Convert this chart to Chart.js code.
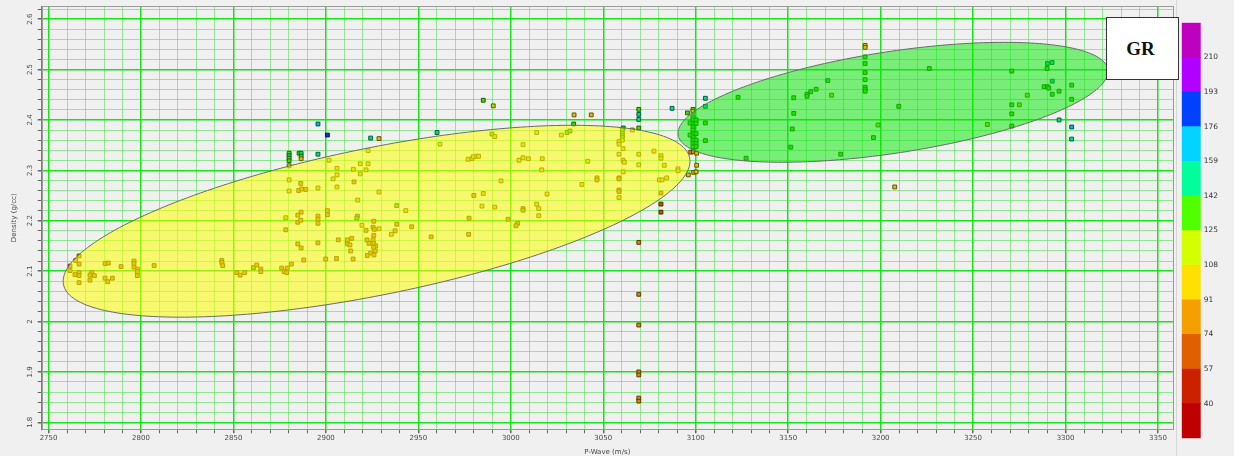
<!DOCTYPE html>
<html>
<head>
<meta charset="utf-8">
<script src="https://cdn.jsdelivr.net/npm/chart.js@4.4.1/dist/chart.umd.min.js"></script>
<style>
  html, body { margin: 0; padding: 0; background: #f0f0f0; }
  body { width: 1234px; height: 456px; position: relative; overflow: hidden; }
  #plot { position: absolute; left: 0; top: 0; }
  #barPanel { position: absolute; left: 1176px; top: 0; width: 58px; height: 456px; border-left: 1px solid #d6d6d6; background: #f0f0f0; }
  #bar { position: absolute; left: 1178px; top: 0; }
  #grBox { position: absolute; left: 1106px; top: 17px; width: 73px; height: 63px; border: 1.5px solid #333; background: #fff;
           font: bold 19px "Liberation Serif", "Times New Roman", serif; color: #111;
           display: flex; align-items: center; justify-content: center; padding-right: 4px; box-sizing: border-box; }
</style>
</head>
<body>
<canvas id="plot" width="1178" height="456"></canvas>
<div id="barPanel"></div>
<canvas id="bar" width="56" height="456"></canvas>
<div id="grBox">GR</div>
<script>
// ---- Well log samples: P-wave velocity (m/s), bulk density (g/cc), gamma ray (API) ----
const pWave = [
  // shallow low-velocity sands
  2766.5, 2764.7, 2766.5, 2761.6, 2761.6, 2766.5, 2766.5, 2764.3, 2766.5, 2773.4, 2772.4, 2774.8,
  2772.4, 2780.6, 2782.3, 2789.2, 2780.6, 2782.0, 2784.5, 2796.2, 2796.2, 2796.2, 2798.0, 2798.0,
  2798.0, 2807.1, 2843.7, 2843.7, 2844.2, 2851.8, 2853.6, 2856.1, 2860.8, 2862.6, 2864.8, 2864.8,
  2876.1, 2879.1, 2877.4, 2878.8, 2881.3, 2888.0, 2899.9, 2905.7, 2914.7,
  // 2880-2960 cluster
  2895.7, 2900.8, 2924.2, 2928.7, 2960.1, 2880.1, 2880.1, 2880.1, 2880.1, 2880.1, 2885.5, 2886.6,
  2886.6, 2886.6, 2895.7, 2901.7, 2922.8, 2961.7, 2918.6, 2922.8, 2906.0, 2914.8, 2921.7, 2918.6,
  2906.0, 2903.9, 2915.2, 2880.1, 2886.4, 2906.0, 2895.7, 2880.1, 2885.3, 2886.9, 2889.1, 2928.7,
  2917.2, 2938.3, 2943.2, 2886.6, 2884.8, 2884.8, 2886.4, 2878.3, 2900.8, 2900.8, 2895.7, 2895.7,
  2895.7, 2917.0, 2916.7, 2925.9, 2919.5, 2921.7, 2925.5, 2926.2, 2928.7, 2925.9, 2938.3, 2937.4,
  2935.4, 2946.4, 2956.9, 2878.3, 2884.8, 2886.6, 2895.7, 2906.7, 2911.6, 2914.0, 2911.6, 2913.0,
  2913.4, 2922.2, 2923.3, 2925.5, 2925.9, 2926.9, 2925.8, 2926.7, 2924.2, 2926.0, 2922.4,
  // 2975-3050 cluster
  2985.1, 2990.5, 3034.2, 3043.5, 3034.0, 2989.8, 2991.3, 3014.0, 3027.3, 3030.4, 3032.0, 3006.6,
  2976.9, 2979.0, 2979.7, 2981.6, 2982.6, 3004.4, 3006.6, 3009.5, 3017.0, 3041.6, 3016.7, 2994.7,
  3046.6, 3046.6, 3038.4, 2980.0, 2985.1, 3019.6, 3014.0, 3015.1, 3006.6, 3006.6, 2984.4, 2991.3,
  3015.1, 2977.4, 2998.5, 3003.7, 3002.8, 2977.2,
  // 3055-3106 transition
  3069.2, 3069.2, 3069.2, 3069.2, 3060.8, 3060.3, 3060.3, 3060.3, 3060.3, 3060.3, 3058.5, 3058.5,
  3065.7, 3060.7, 3058.5, 3060.7, 3061.4, 3060.7, 3058.5, 3058.5, 3058.5, 3058.5, 3058.5, 3069.2,
  3069.2, 3077.4, 3081.2, 3081.2, 3083.0, 3090.4, 3090.4, 3084.3, 3080.3, 3081.8, 3081.2, 3081.2,
  3081.2, 3069.2, 3069.2, 3069.2, 3069.2, 3069.2, 3069.2, 3069.2, 3087.2, 3095.5, 3098.5, 3098.5,
  3105.2, 3105.2, 3098.5, 3098.5, 3098.5, 3098.5, 3098.5, 3098.5, 3098.5, 3098.5, 3098.5, 3098.5,
  3100.2, 3100.2, 3100.2, 3100.2, 3100.2, 3100.2, 3096.9, 3096.9, 3105.2, 3105.2, 3097.3, 3098.7,
  3100.5, 3100.5, 3098.9, 3100.2, 3096.0,
  // high-velocity interval
  3122.9, 3127.2, 3191.6, 3191.6, 3191.6, 3191.6, 3191.6, 3191.6, 3191.6, 3191.6, 3191.6, 3226.3,
  3171.4, 3165.1, 3162.2, 3160.2, 3160.2, 3173.5, 3153.0, 3153.0, 3152.2, 3151.4, 3178.4, 3196.1,
  3198.6, 3209.8, 3207.6, 3257.7, 3270.9, 3270.9, 3270.9, 3270.9, 3275.0, 3279.3, 3290.2, 3292.7,
  3290.0, 3292.8, 3288.4, 3290.2, 3290.9, 3292.8, 3296.5, 3303.3, 3303.3, 3296.5, 3303.3, 3303.3
];

const density = [
  2.130, 2.121, 2.114, 2.110, 2.101, 2.097, 2.091, 2.093, 2.077, 2.097, 2.092, 2.091,
  2.082, 2.115, 2.116, 2.109, 2.086, 2.079, 2.086, 2.120, 2.115, 2.108, 2.104, 2.099,
  2.091, 2.111, 2.121, 2.117, 2.111, 2.097, 2.092, 2.097, 2.107, 2.112, 2.104, 2.099,
  2.106, 2.106, 2.099, 2.097, 2.114, 2.122, 2.124, 2.125, 2.124,

  2.392, 2.370, 2.364, 2.363, 2.375, 2.334, 2.329, 2.324, 2.319, 2.309, 2.334, 2.334,
  2.328, 2.323, 2.332, 2.320, 2.339, 2.352, 2.313, 2.313, 2.304, 2.302, 2.301, 2.293,
  2.291, 2.283, 2.277, 2.281, 2.274, 2.267, 2.265, 2.259, 2.260, 2.263, 2.262, 2.257,
  2.241, 2.230, 2.220, 2.217, 2.211, 2.197, 2.201, 2.206, 2.220, 2.212, 2.209, 2.203,
  2.195, 2.209, 2.205, 2.199, 2.191, 2.181, 2.187, 2.183, 2.184, 2.171, 2.193, 2.180,
  2.173, 2.188, 2.168, 2.182, 2.154, 2.146, 2.156, 2.162, 2.162, 2.165, 2.154, 2.152,
  2.140, 2.162, 2.155, 2.162, 2.155, 2.150, 2.147, 2.140, 2.136, 2.132, 2.131,

  2.439, 2.428, 2.410, 2.410, 2.392, 2.372, 2.367, 2.375, 2.370, 2.375, 2.378, 2.351,
  2.322, 2.323, 2.327, 2.328, 2.328, 2.320, 2.325, 2.323, 2.323, 2.318, 2.301, 2.279,
  2.285, 2.281, 2.272, 2.250, 2.254, 2.253, 2.233, 2.224, 2.224, 2.221, 2.229, 2.227,
  2.210, 2.205, 2.203, 2.195, 2.190, 2.173,

  2.421, 2.411, 2.401, 2.384, 2.384, 2.380, 2.374, 2.369, 2.365, 2.360, 2.357, 2.352,
  2.380, 2.343, 2.332, 2.320, 2.316, 2.297, 2.285, 2.283, 2.261, 2.258, 2.246, 2.332,
  2.311, 2.338, 2.329, 2.324, 2.310, 2.303, 2.299, 2.285, 2.281, 2.281, 2.255, 2.233,
  2.217, 2.157, 2.054, 1.993, 1.900, 1.894, 1.848, 1.842, 2.423, 2.414, 2.421, 2.417,
  2.443, 2.427, 2.406, 2.400, 2.393, 2.386, 2.380, 2.373, 2.366, 2.360, 2.353, 2.347,
  2.400, 2.393, 2.373, 2.360, 2.353, 2.347, 2.394, 2.370, 2.394, 2.359, 2.336, 2.337,
  2.334, 2.310, 2.296, 2.297, 2.291,

  2.445, 2.324, 2.548, 2.544, 2.525, 2.512, 2.494, 2.480, 2.465, 2.461, 2.457, 2.502,
  2.478, 2.461, 2.456, 2.451, 2.447, 2.449, 2.444, 2.413, 2.382, 2.346, 2.332, 2.365,
  2.390, 2.427, 2.267, 2.391, 2.497, 2.430, 2.412, 2.388, 2.430, 2.449, 2.512, 2.514,
  2.502, 2.477, 2.466, 2.466, 2.463, 2.451, 2.457, 2.469, 2.441, 2.400, 2.386, 2.362
];

const gammaRay = [
  84, 87, 82, 88, 85, 86, 83, 87, 84, 86, 88, 85,
  83, 87, 86, 84, 88, 85, 86, 87, 84, 86, 85, 88,
  83, 86, 87, 85, 84, 86, 88, 85, 84, 87, 86, 85,
  84, 86, 83, 85, 87, 88, 89, 90, 88,

  170, 180, 150, 106, 150, 132, 145, 135, 128, 112, 135, 147,
  130, 105, 150, 112, 114, 116, 100, 100, 100, 95, 94, 98,
  118, 100, 90, 100, 90, 100, 92, 100, 88, 89, 88, 92,
  93, 126, 94, 89, 88, 88, 90, 92, 88, 86, 88, 87,
  89, 90, 130, 85, 100, 88, 87, 85, 98, 84, 88, 89,
  100, 90, 90, 88, 87, 88, 89, 85, 80, 84, 80, 79,
  84, 80, 81, 85, 84, 86, 80, 85, 79, 84, 80,

  135, 112, 106, 106, 130, 126, 95, 122, 122, 126, 126, 122,
  95, 100, 101, 99, 100, 95, 102, 100, 102, 122, 100, 95,
  90, 90, 100, 90, 100, 100, 100, 100, 90, 90, 92, 92,
  100, 90, 90, 90, 90, 90,

  130, 148, 148, 132, 150, 125, 126, 127, 125, 124, 95, 95,
  100, 100, 100, 100, 100, 100, 90, 90, 90, 90, 100, 95,
  110, 100, 95, 95, 100, 95, 95, 100, 100, 100, 90, 68,
  68, 88, 86, 88, 86, 86, 85, 85, 145, 130, 128, 110,
  152, 150, 128, 130, 127, 126, 129, 131, 128, 127, 126, 128,
  126, 128, 130, 125, 127, 129, 130, 130, 130, 125, 90, 90,
  95, 100, 100, 100, 95,

  128, 128, 95, 98, 125, 126, 127, 127, 130, 131, 130, 128,
  128, 128, 128, 130, 130, 120, 135, 125, 125, 125, 125, 125,
  120, 130, 105, 120, 135, 135, 130, 130, 120, 120, 145, 145,
  135, 142, 125, 125, 130, 135, 130, 130, 128, 155, 160, 155
];

// ---- Gamma ray colour classes (API) ----
const grEdges = [23, 40, 57, 74, 91, 108, 125, 142, 159, 176, 193, 210, 227];
const grColors = ['#c00000', '#cc2000', '#e06000', '#f5a000', '#ffe000', '#d4ff00',
                  '#50ff00', '#00ff9c', '#00d4ff', '#0040ff', '#b000ff', '#c000c0'];
const grTickLabels = [40, 57, 74, 91, 108, 125, 142, 159, 176, 193, 210];

// ---- Axis ranges ----
const pWaveRange = [2746.3, 3358.1];
const densityRange = [1.7861, 2.6257];

// ---- Facies zones: centre plus two half-axis vectors, in data units ----
const sandZone = { cx: 2927.4, cy: 2.199, ax: 169.3, ay: 0.1258, bx: 7.9, by: -0.1429, fill: 'rgba(255,255,0,0.54)' };
const carbonateZone = { cx: 3206.7, cy: 2.435, ax: 116.2, ay: 0.0651, bx: 4.15, by: -0.0996, fill: 'rgba(0,235,0,0.5)' };
const zones = [sandZone, carbonateZone];

function grColor(v) {
  for (let i = 0; i < grColors.length; i++) {
    if (v < grEdges[i + 1]) return grColors[i];
  }
  return grColors[grColors.length - 1];
}
function shade(hex, f) {
  const n = parseInt(hex.slice(1), 16);
  const r = (n >> 16) & 255, g = (n >> 8) & 255, b = n & 255;
  return `rgb(${Math.round(r * f)},${Math.round(g * f)},${Math.round(b * f)})`;
}

const tickFont = { family: '"DejaVu Sans", sans-serif', size: 7 };
const isMajorP = v => Math.round(v) % 50 === 0;
const isMajorRho = v => Math.round(v * 100) % 10 === 0;

// Facies ellipses are laid over the points, semi-transparent, through the chart scales
const zonePlugin = {
  id: 'faciesZones',
  afterDatasetsDraw(chart) {
    const { ctx, chartArea: a, scales: { x, y } } = chart;
    ctx.save();
    ctx.beginPath();
    ctx.rect(a.left, a.top, a.right - a.left, a.bottom - a.top);
    ctx.clip();
    for (const z of zones) {
      ctx.beginPath();
      for (let k = 0; k <= 240; k++) {
        const t = (k / 240) * Math.PI * 2;
        const px = x.getPixelForValue(z.cx + z.ax * Math.cos(t) + z.bx * Math.sin(t));
        const py = y.getPixelForValue(z.cy + z.ay * Math.cos(t) + z.by * Math.sin(t));
        if (k === 0) ctx.moveTo(px, py); else ctx.lineTo(px, py);
      }
      ctx.closePath();
      ctx.fillStyle = z.fill;
      ctx.fill();
      ctx.strokeStyle = '#6a6a6a';
      ctx.lineWidth = 1;
      ctx.stroke();
    }
    ctx.restore();
  },
  afterDraw(chart) {
    const { ctx, chartArea: a } = chart;
    ctx.save();
    ctx.strokeStyle = '#9a9a9a';
    ctx.lineWidth = 1;
    ctx.strokeRect(Math.round(a.left) + 0.5, Math.round(a.top) + 0.5, Math.round(a.right - a.left), Math.round(a.bottom - a.top));
    ctx.restore();
  }
};

new Chart(document.getElementById('plot'), {
  type: 'scatter',
  data: {
    datasets: [{
      data: pWave.map((p, i) => ({ x: p, y: density[i] })),
      pointStyle: 'rect',
      pointRadius: 2.7,
      pointHoverRadius: 2.7,
      borderWidth: 1,
      backgroundColor: c => shade(grColor(gammaRay[c.dataIndex]), 0.86),
      borderColor: c => shade(grColor(gammaRay[c.dataIndex]), 0.38)
    }]
  },
  options: {
    responsive: false,
    animation: false,
    events: [],
    layout: { padding: { top: 6, right: 5, left: 0, bottom: 0 } },
    plugins: { legend: { display: false }, tooltip: { enabled: false } },
    scales: {
      x: {
        type: 'linear',
        min: pWaveRange[0],
        max: pWaveRange[1],
        afterFit: s => { s.height = 26.7; },
        ticks: {
          stepSize: 10, autoSkip: false, includeBounds: false, maxRotation: 0, minRotation: 0,
          padding: 1, color: '#4a4a4a', font: tickFont,
          callback: v => (isMajorP(v) ? String(Math.round(v)) : '')
        },
        grid: {
          color: c => (c.tick && isMajorP(c.tick.value) ? '#14e614' : 'rgba(70,225,70,0.55)'),
          lineWidth: c => (c.tick && isMajorP(c.tick.value) ? 1.5 : 1),
          tickColor: '#666', tickLength: 4
        },
        border: { color: '#7c7c7c' },
        title: { display: true, text: 'P-Wave (m/s)', color: '#444', font: tickFont, padding: { top: 0, bottom: 0 } }
      },
      y: {
        type: 'linear',
        min: densityRange[0],
        max: densityRange[1],
        afterFit: s => { s.width = 41.7; },
        ticks: {
          stepSize: 0.02, autoSkip: false, includeBounds: false, minRotation: 90, maxRotation: 90,
          crossAlign: 'center', padding: 2, color: '#4a4a4a', font: tickFont,
          callback: v => (isMajorRho(v) ? String(Math.round(v * 10) / 10) : '')
        },
        grid: {
          color: c => (c.tick && isMajorRho(c.tick.value) ? '#14e614' : 'rgba(70,225,70,0.55)'),
          lineWidth: c => (c.tick && isMajorRho(c.tick.value) ? 1.5 : 1),
          tickColor: '#666', tickLength: 4
        },
        border: { color: '#7c7c7c' },
        title: { display: true, text: 'Density (g/cc)', color: '#444', font: tickFont, padding: { top: 10, bottom: 0 } }
      }
    }
  },
  plugins: [zonePlugin]
});

// ---- GR colour scale ----
new Chart(document.getElementById('bar'), {
  type: 'bar',
  data: {
    labels: ['GR'],
    datasets: grColors.map((c, i) => ({
      data: [[grEdges[i], grEdges[i + 1]]],
      backgroundColor: c,
      borderWidth: 0,
      grouped: false,
      barPercentage: 1,
      categoryPercentage: 1
    }))
  },
  options: {
    responsive: false,
    animation: false,
    events: [],
    layout: { padding: { left: 3.7, top: 22.7, bottom: 17.7, right: 3.3 } },
    plugins: { legend: { display: false }, tooltip: { enabled: false } },
    scales: {
      x: { display: false },
      y: {
        position: 'right',
        min: grEdges[0],
        max: grEdges[grEdges.length - 1],
        afterBuildTicks: s => { s.ticks = grTickLabels.map(v => ({ value: v })); },
        afterFit: s => { s.width = 30; },
        grid: { display: false, drawTicks: false },
        border: { display: false },
        ticks: { padding: 3, color: '#333', font: { family: '"DejaVu Sans", sans-serif', size: 7.5 } }
      }
    }
  }
});
</script>
</body>
</html>
